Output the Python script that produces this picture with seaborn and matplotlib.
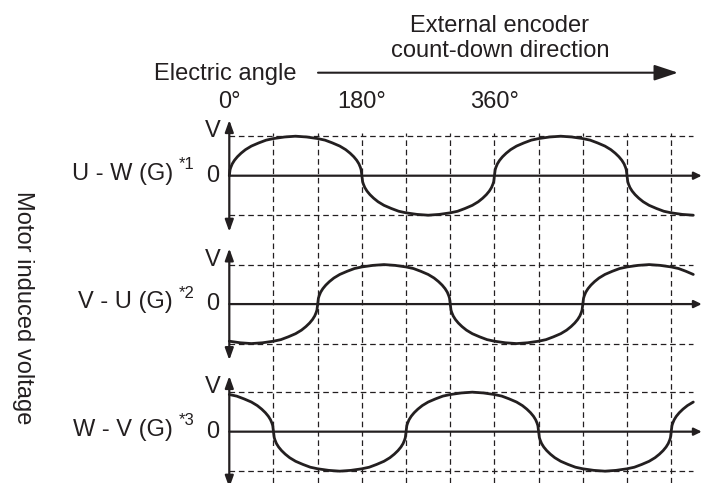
import numpy as np
import pandas as pd
import matplotlib
matplotlib.use("Agg")
import matplotlib.pyplot as plt
import seaborn as sns

sns.set_style("white")
plt.rcParams['font.family'] = ['Liberation Sans', 'DejaVu Sans']

INK = '#231f20'

# half-wave shape (degrees after a zero crossing, level in V units)
half_wave_offset = [0, 1, 2, 4, 7, 11, 16, 22, 30, 40, 50, 60, 75, 90,
                    105, 120, 130, 140, 150, 158, 164, 169, 173, 176, 178, 179, 180]
half_wave_level = [0, 0.15, 0.21, 0.30, 0.39, 0.48, 0.57, 0.66, 0.75, 0.83, 0.90, 0.94, 0.98, 1.0,
                   0.98, 0.94, 0.90, 0.83, 0.75, 0.66, 0.57, 0.48, 0.39, 0.30, 0.21, 0.15, 0]

# zero crossings of each induced voltage (electric angle, degrees)
panel_names = ["U - W (G)", "V - U (G)", "W - V (G)"]
panel_notes = ["*1", "*2", "*3"]
rising_zero = [[0, 360], [120, 480], [-120, 240, 600]]
falling_zero = [[180, 540], [-60, 300], [60, 420]]
end_angle = 630

grid_angles = [60, 120, 180, 240, 300, 360, 420, 480, 540, 600]
tick_angles = [0, 180, 360]
tick_labels = ["0°", "180°", "360°"]

# layout: one axes over the whole figure, panels stacked by an offset
W, H = 704, 483
x0_px, px_per_deg = 229.3, 0.7365
zero_px, px_per_v = 175.7, 39.5
panel_offset = [0, -3.25, -6.48]


def fig_xy(x, y):
    return x / W, 1 - y / H


rows = []
for name, rises, falls, off in zip(panel_names, rising_zero, falling_zero, panel_offset):
    for c in rises:
        for o, l in zip(half_wave_offset, half_wave_level):
            rows.append((name, c + o, l + off))
    for c in falls:
        for o, l in zip(half_wave_offset, half_wave_level):
            rows.append((name, c + o, -l + off))
df = pd.DataFrame(rows, columns=["panel", "angle", "volt"])
df = df[(df["angle"] >= 0) & (df["angle"] <= end_angle)]

fig = plt.figure(figsize=(W / 100, H / 100), dpi=100)
ax = fig.add_axes([0, 0, 1, 1])
ax.set_xlim(-x0_px / px_per_deg, (W - x0_px) / px_per_deg)
ax.set_ylim(-(H - zero_px) / px_per_v, zero_px / px_per_v)
ax.axis("off")

dash = (0, (4.5, 3))
top_grid = (zero_px - 133) / px_per_v
ax.vlines(grid_angles, ax.get_ylim()[0], top_grid, colors=INK, lw=0.9, linestyles=dash)
for off in panel_offset:
    ax.hlines([off + 1, off - 1], 0, end_angle, colors=INK, lw=0.9, linestyles=dash)
    # zero line with arrow
    ax.annotate('', xy=((701.7 - x0_px) / px_per_deg, off), xytext=(0, off),
                arrowprops=dict(arrowstyle='-|>,head_length=0.45,head_width=0.22',
                                color=INK, lw=1.6, shrinkA=0, shrinkB=0))
    # voltage axis with arrows both ends
    ax.annotate('', xy=(0, off + 1.41), xytext=(0, off - 1.42),
                arrowprops=dict(arrowstyle='<|-|>,head_length=0.7,head_width=0.25',
                                color=INK, lw=1.6, shrinkA=0, shrinkB=0))

sns.lineplot(data=df, x="angle", y="volt", units="panel", estimator=None,
             color=INK, lw=2.0, ax=ax, legend=False)

# direction arrow
ax.annotate('', xy=((678 - x0_px) / px_per_deg, (zero_px - 72.7) / px_per_v),
            xytext=((318 - x0_px) / px_per_deg, (zero_px - 72.7) / px_per_v),
            arrowprops=dict(arrowstyle='-|>,head_length=1.45,head_width=0.48',
                            color=INK, lw=1.5, shrinkA=0, shrinkB=0))

fs = 17
fig.text(*fig_xy(500, 38.5), "External encoder\ncount-down direction", ha='center', va='center',
         fontsize=fs, color=INK, linespacing=1.15)
fig.text(*fig_xy(297, 74), "Electric angle", ha='right', va='center', fontsize=fs, color=INK)
for a, lab in zip(tick_angles, tick_labels):
    ax.text(a, (zero_px - 101.7) / px_per_v, lab, ha='center', va='center', fontsize=fs, color=INK)

for name, note, off in zip(panel_names, panel_notes, panel_offset):
    y0 = zero_px - off * px_per_v
    fig.text(*fig_xy(173, y0 - 2), name, ha='right', va='center', fontsize=fs, color=INK)
    fig.text(*fig_xy(179, y0 - 11), note, ha='left', va='center', fontsize=12, color=INK)
    fig.text(*fig_xy(212.5, y0), "0", ha='center', va='center', fontsize=fs, color=INK)
    fig.text(*fig_xy(212.5, y0 - 44.5), "V", ha='center', va='center', fontsize=fs, color=INK)

fig.text(*fig_xy(23, 308), "Motor induced voltage", rotation=270, ha='center', va='center',
         fontsize=fs, color=INK)

fig.savefig("out.png", dpi=100)
